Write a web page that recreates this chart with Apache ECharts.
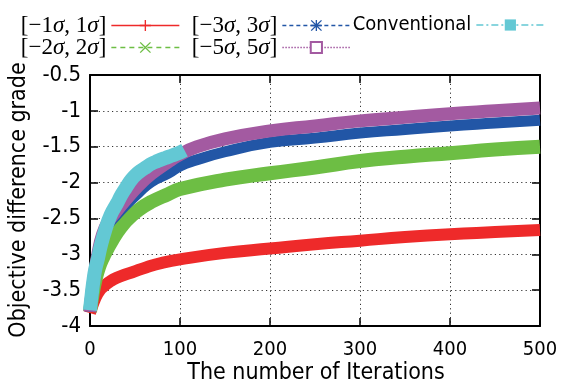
<!DOCTYPE html>
<html><head><meta charset="utf-8">
<script src="https://cdn.jsdelivr.net/npm/echarts@6/dist/echarts.min.js"></script>
<style>html,body{margin:0;padding:0;background:#fff}#c{width:563px;height:383px}</style>
</head><body><div id="c"></div>
<script>
// ---- data ----
const xTickValues = [0, 100, 200, 300, 400, 500];
const yTickValues = [-4, -3.5, -3, -2.5, -2, -1.5, -1, -0.5];

const seriesNames = ['[\u22121\u03c3, 1\u03c3]', '[\u22122\u03c3, 2\u03c3]', '[\u22123\u03c3, 3\u03c3]', '[\u22125\u03c3, 5\u03c3]', 'Conventional'];

const iterRed = [0, 2, 5, 8, 11, 15, 20, 26, 35, 47, 63, 80, 100, 150, 200, 250, 300, 350, 400, 450, 500];
const valRed  = [-3.82, -3.74, -3.64, -3.56, -3.50, -3.45, -3.40, -3.35, -3.30, -3.25, -3.18, -3.12, -3.07, -2.98, -2.92, -2.86, -2.81, -2.76, -2.72, -2.69, -2.66];

const iterGreen = [0, 3, 6, 10, 15, 20, 25, 31, 37, 43, 54, 68, 87, 100, 150, 200, 250, 300, 350, 400, 450, 500];
const valGreen  = [-3.80, -3.55, -3.36, -3.18, -3.03, -2.91, -2.80, -2.68, -2.58, -2.50, -2.38, -2.27, -2.16, -2.09, -1.96, -1.87, -1.79, -1.70, -1.64, -1.59, -1.54, -1.50];

const iterBlue = [0, 2, 5, 9, 14, 20, 28, 39, 54, 68, 87, 100, 117, 150, 200, 250, 300, 350, 400, 450, 500];
const valBlue  = [-3.80, -3.57, -3.30, -3.00, -2.75, -2.59, -2.47, -2.32, -2.14, -1.99, -1.87, -1.77, -1.69, -1.57, -1.44, -1.38, -1.31, -1.26, -1.21, -1.17, -1.13];

const iterPurple = [0, 2, 5, 9, 14, 20, 28, 39, 54, 68, 87, 100, 117, 150, 200, 250, 300, 350, 400, 450, 500];
const valPurple  = [-3.80, -3.55, -3.28, -2.98, -2.72, -2.55, -2.42, -2.25, -2.04, -1.88, -1.71, -1.61, -1.51, -1.39, -1.28, -1.21, -1.14, -1.09, -1.04, -1.00, -0.96];

const iterCyan = [0, 2, 4, 6, 9, 12, 17, 23, 30, 35, 40, 46, 52, 57, 63, 68, 75, 83, 92, 100, 105];
const valCyan  = [-3.78, -3.55, -3.35, -3.20, -3.05, -2.88, -2.66, -2.45, -2.29, -2.17, -2.07, -1.96, -1.88, -1.83, -1.78, -1.74, -1.70, -1.66, -1.62, -1.58, -1.55];

// ---- styles ----
const SANS = "'DejaVu Sans Condensed', 'DejaVu Sans', sans-serif";
const SERIF = "'Liberation Serif', 'DejaVu Serif', serif";
const colors = ['#ee2a2a', '#6dbe44', '#2256a6', '#a35aa1', '#63c8d4'];
const widths = [12, 14, 11, 13, 14];
const legendDash = ['solid', [5, 4], [4, 3], [1.5, 1.5], [7, 3, 2, 3]];
const symbols = [
  'path://M4.4,0H5.6V4.4H10V5.6H5.6V10H4.4V5.6H0V4.4H4.4Z',
  'path://M0,0.8L0.8,0L5,4.2L9.2,0L10,0.8L5.8,5L10,9.2L9.2,10L5,5.8L0.8,10L0,9.2L4.2,5Z',
  'path://M4.4,0H5.6V4.4H10V5.6H5.6V10H4.4V5.6H0V4.4H4.4Z M0,0.8L0.8,0L5,4.2L9.2,0L10,0.8L5.8,5L10,9.2L9.2,10L5,5.8L0.8,10L0,9.2L4.2,5Z',
  'emptyRect',
  'rect'
];

const zip = (xs, ys) => xs.map((x, i) => [x, ys[i]]);
const seriesData = [zip(iterRed, valRed), zip(iterGreen, valGreen), zip(iterBlue, valBlue), zip(iterPurple, valPurple), zip(iterCyan, valCyan)];

const series = seriesNames.map((name, i) => ({
  name: name,
  type: 'line',
  data: seriesData[i],
  showSymbol: false,
  symbol: symbols[i],
  smooth: 0.5,
  color: colors[i],
  lineStyle: { width: widths[i], color: colors[i], cap: 'butt', join: 'bevel' },
  itemStyle: { color: colors[i] },
  emphasis: { disabled: true },
  clip: false,
  z: 2 + i
}));

// legend placement: [series index, right, top]
const legendPlace = [[0, 383, 14], [2, 212, 14], [4, 18, 14], [1, 383, 36], [3, 212, 36]];
const legends = legendPlace.map(([si, r, t]) => ({
  data: [seriesNames[si]],
  right: r, top: t, padding: 0,
  orient: 'horizontal', align: 'right',
  itemWidth: 68, itemHeight: 14,
  selectedMode: false,
  lineStyle: { width: 1.3, type: legendDash[si], color: colors[si] },
  formatter: n => n.replace(/\u03c3/g, '{i|\u03c3}'),
  textStyle: si === 4
    ? { fontFamily: SANS, fontSize: 20, color: '#000', lineHeight: 22 }
    : { fontFamily: SERIF, fontSize: 23, color: '#000', lineHeight: 22,
        rich: { i: { fontFamily: SERIF, fontStyle: 'italic', fontSize: 23, color: '#000', lineHeight: 22 } } }
}));

const grid = { left: 90, right: 23, top: 75, bottom: 57, containLabel: false };
const tickCommon = { show: true, inside: true, length: 8, lineStyle: { color: '#000', width: 1.5 } };
const lineCommon = { show: true, onZero: false, lineStyle: { color: '#000', width: 2 } };

const option = {
  backgroundColor: '#fff',
  animation: false,
  grid: grid,
  legend: legends,
  xAxis: [
    { type: 'value', min: xTickValues[0], max: xTickValues[xTickValues.length - 1], interval: 100,
      axisLine: lineCommon, axisTick: tickCommon,
      axisLabel: { color: '#000', fontFamily: SANS, fontSize: 20, margin: 14 },
      splitLine: { show: true, lineStyle: { color: '#333', width: 1, type: [1.2, 3.2] } } },
    { type: 'value', position: 'top', min: xTickValues[0], max: xTickValues[xTickValues.length - 1], interval: 100,
      axisLine: lineCommon, axisTick: tickCommon, axisLabel: { show: false }, splitLine: { show: false } }
  ],
  yAxis: [
    { type: 'value', min: yTickValues[0], max: yTickValues[yTickValues.length - 1], interval: 0.5,
      axisLine: lineCommon, axisTick: tickCommon,
      axisLabel: { color: '#000', fontFamily: SANS, fontSize: 22, margin: 9 },
      splitLine: { show: true, lineStyle: { color: '#333', width: 1, type: [1.2, 3.2] } } },
    { type: 'value', position: 'right', min: yTickValues[0], max: yTickValues[yTickValues.length - 1], interval: 0.5,
      axisLine: lineCommon, axisTick: tickCommon, axisLabel: { show: false }, splitLine: { show: false } }
  ],
  graphic: [
    { type: 'text', x: 316, y: 373, z: 10,
      style: { text: 'The number of Iterations', fontFamily: SANS, fontSize: 23, fill: '#000', textAlign: 'center', textVerticalAlign: 'middle' } },
    { type: 'text', x: 19, y: 200, rotation: Math.PI / 2, z: 10,
      style: { text: 'Objective difference grade', fontFamily: SANS, fontSize: 23, fill: '#000', textAlign: 'center', textVerticalAlign: 'middle' } }
  ],
  series: series
};

const chart = echarts.init(document.getElementById('c'), null, { renderer: 'canvas' });
chart.setOption(option);
</script>
</body></html>
